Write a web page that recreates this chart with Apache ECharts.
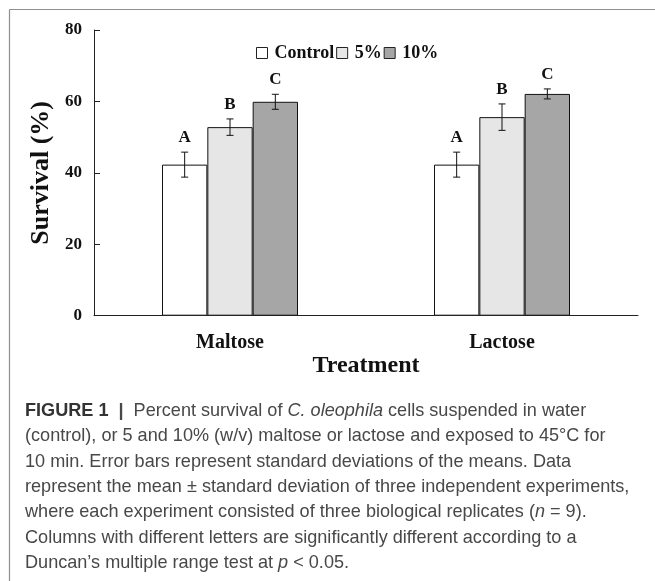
<!DOCTYPE html>
<html>
<head>
<meta charset="utf-8">
<script src="https://cdn.jsdelivr.net/npm/echarts@6/dist/echarts.min.js"></script>
<style>
html,body{margin:0;padding:0;background:#fff;}
#chart{width:655px;height:581px;}
</style>
</head>
<body>
<div id="chart"></div>
<script>
// ---- data ----
const categories = ['Maltose', 'Lactose'];
const seriesNames = ['Control', '5%', '10%'];
const controlMean = [42.3, 42.3];
const controlSD = [3.5, 3.5];
const pct5Mean = [52.8, 55.6];
const pct5SD = [2.3, 3.7];
const pct10Mean = [59.9, 62.1];
const pct10SD = [2.1, 1.4];
const controlLetters = ['A', 'A'];
const pct5Letters = ['B', 'B'];
const pct10Letters = ['C', 'C'];
const yTicks = [0, 20, 40, 60, 80];
const captionLines = [
  '{b|FIGURE 1}  {bar||}  Percent survival of {i|C. oleophila} cells suspended in water',
  '(control), or 5 and 10% (w/v) maltose or lactose and exposed to 45°C for',
  '10 min. Error bars represent standard deviations of the means. Data',
  'represent the mean ± standard deviation of three independent experiments,',
  'where each experiment consisted of three biological replicates ({i|n} = 9).',
  'Columns with different letters are significantly different according to a',
  'Duncan\u2019s multiple range test at {i|p} < 0.05.'
];

const means = [controlMean, pct5Mean, pct10Mean];
const sds = [controlSD, pct5SD, pct10SD];
const letters = [controlLetters, pct5Letters, pct10Letters];
const fills = ['#ffffff', '#e6e6e6', '#a6a6a6'];
const serif = '"Liberation Serif", "Times New Roman", serif';
const sans = '"Liberation Sans", Arial, sans-serif';

// caption font size fitted to reference line width
const ctx = document.createElement('canvas').getContext('2d');
ctx.font = '17px ' + sans;
const w4 = ctx.measureText('represent the mean ± standard deviation of three independent experiments,').width;
const capSize = Math.round(17 * 603 / w4 * 10) / 10;

const chart = echarts.init(document.getElementById('chart'), null, {renderer: 'canvas'});

const series = [];
seriesNames.forEach((name, si) => {
  series.push({
    name: name,
    type: 'bar',
    barGap: '0%',
    barCategoryGap: '50%',
    data: means[si],
    itemStyle: {color: fills[si], borderColor: '#111', borderWidth: 1},
    emphasis: {disabled: true},
    z: 2
  });
});
seriesNames.forEach((name, si) => {
  series.push({
    type: 'custom',
    silent: true,
    z: 5,
    data: categories.map((c, i) => [i, means[si][i], sds[si][i]]),
    renderItem: function (params, api) {
      const cat = api.value(0), m = api.value(1), sd = api.value(2);
      const band = api.size([1, 0])[0];
      const bw = band * 0.5 / 3;
      const c = api.coord([cat, m]);
      const x = c[0] + (si - 1) * bw;
      const yt = api.coord([cat, m + sd])[1];
      const yb = api.coord([cat, m - sd])[1];
      const h = 3.5;
      const ls = {stroke: '#111', lineWidth: 1};
      return {
        type: 'group',
        children: [
          {type: 'line', shape: {x1: x, y1: yt, x2: x, y2: yb}, style: ls},
          {type: 'line', shape: {x1: x - h, y1: yt, x2: x + h, y2: yt}, style: ls},
          {type: 'line', shape: {x1: x - h, y1: yb, x2: x + h, y2: yb}, style: ls},
          {type: 'text', x: x, y: yt - 6, style: {
            text: letters[si][params.dataIndex], font: 'bold 17px ' + serif,
            fill: '#111', align: 'center', verticalAlign: 'bottom'}}
        ]
      };
    }
  });
});

const graphics = [
  {type: 'line', shape: {x1: 9.5, y1: 9.5, x2: 660, y2: 9.5}, style: {stroke: '#8e8e8e', lineWidth: 1.2}},
  {type: 'line', shape: {x1: 9.5, y1: 9.5, x2: 9.5, y2: 590}, style: {stroke: '#8e8e8e', lineWidth: 1.2}}
];
captionLines.forEach((t, i) => {
  graphics.push({
    type: 'text', left: 25, top: 412.7 + i * 25.35 - capSize * 0.6,
    style: {
      text: t, font: capSize + 'px ' + sans, fill: '#484848',
      rich: {
        b: {fontWeight: 'bold', fontSize: capSize, fontFamily: sans, fill: '#333333'},
        bar: {fontWeight: 'bold', fontSize: capSize, fontFamily: sans, fill: '#484848'},
        i: {fontStyle: 'italic', fontSize: capSize, fontFamily: sans, fill: '#484848'}
      }
    }
  });
});

chart.setOption({
  animation: false,
  backgroundColor: '#fff',
  grid: {left: 94, right: 17, top: 30, bottom: 265.3, containLabel: false},
  legend: {
    data: seriesNames,
    left: 256, top: 44, padding: 0,
    icon: 'rect', itemWidth: 11, itemHeight: 11, itemGap: 2,
    itemStyle: {borderColor: '#222', borderWidth: 1},
    textStyle: {fontFamily: serif, fontWeight: 'bold', fontSize: 18, color: '#111', padding: [0, 0, 0, 2]},
    selectedMode: false
  },
  xAxis: {
    type: 'category', data: categories,
    name: 'Treatment', nameLocation: 'middle', nameGap: 32,
    nameTextStyle: {fontFamily: serif, fontWeight: 'bold', fontSize: 24, color: '#111'},
    axisLine: {lineStyle: {color: '#222', width: 1}},
    axisTick: {inside: true, length: 8, lineStyle: {color: '#222'}},
    axisLabel: {fontFamily: serif, fontWeight: 'bold', fontSize: 20, color: '#111', margin: 17}
  },
  yAxis: {
    type: 'value', min: 0, max: 80, interval: 20,
    name: 'Survival (%)', nameLocation: 'middle', nameGap: 35, nameRotate: 90,
    nameTextStyle: {fontFamily: serif, fontWeight: 'bold', fontSize: 26, color: '#111'},
    axisLine: {show: true, lineStyle: {color: '#222', width: 1}},
    axisTick: {show: true, inside: true, length: 6, lineStyle: {color: '#222'}},
    splitLine: {show: false},
    axisLabel: {fontFamily: serif, fontWeight: 'bold', fontSize: 17, color: '#111', margin: 12,
      formatter: v => yTicks.indexOf(v) >= 0 ? String(v) : ''}
  },
  series: series,
  graphic: graphics
});
</script>
</body>
</html>
